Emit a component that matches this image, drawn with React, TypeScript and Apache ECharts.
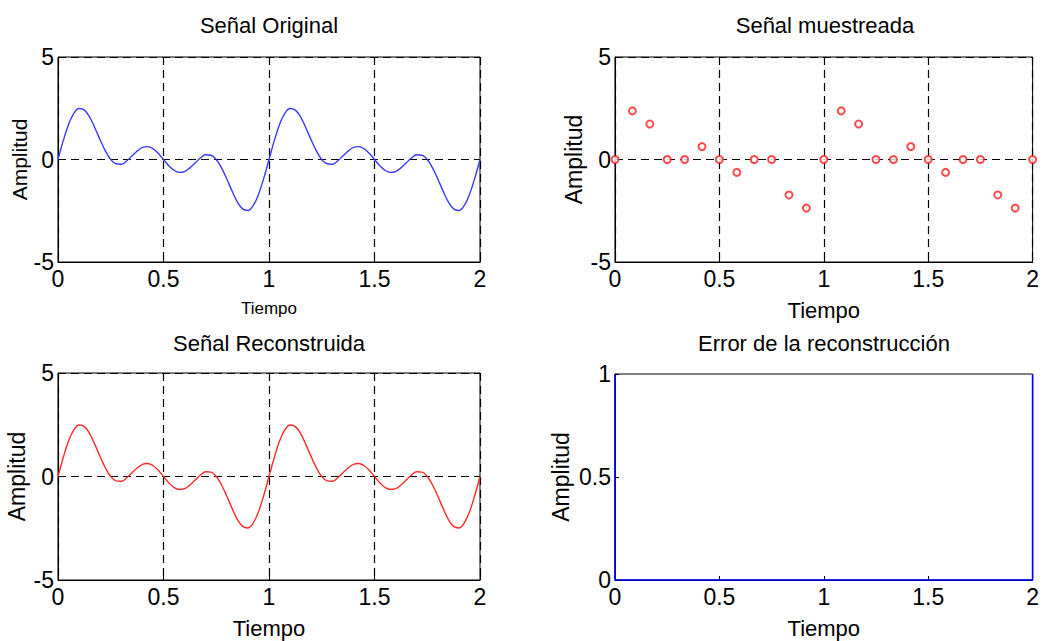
import React, { useEffect, useRef } from "react";
import * as echarts from "echarts";

// Continuous signal, read every 0.025 s over 0..2 s
const originalSignal: number[] = [
  0, 0.92, 1.71, 2.25, 2.49, 2.41, 2.07, 1.54, 0.95, 0.41,
  0, -0.21, -0.23, -0.07, 0.17, 0.41, 0.59, 0.63, 0.53, 0.30,
  0, -0.30, -0.53, -0.63, -0.59, -0.41, -0.17, 0.07, 0.23, 0.21,
  0, -0.41, -0.95, -1.54, -2.07, -2.41, -2.49, -2.25, -1.71, -0.92,
  0, 0.92, 1.71, 2.25, 2.49, 2.41, 2.07, 1.54, 0.95, 0.41,
  0, -0.21, -0.23, -0.07, 0.17, 0.41, 0.59, 0.63, 0.53, 0.30,
  0, -0.30, -0.53, -0.63, -0.59, -0.41, -0.17, 0.07, 0.23, 0.21,
  0, -0.41, -0.95, -1.54, -2.07, -2.41, -2.49, -2.25, -1.71, -0.92,
  0,
];
const reconstructedSignal: number[] = [
  0, 0.92, 1.71, 2.25, 2.49, 2.41, 2.07, 1.54, 0.95, 0.41,
  0, -0.21, -0.23, -0.07, 0.17, 0.41, 0.59, 0.63, 0.53, 0.30,
  0, -0.30, -0.53, -0.63, -0.59, -0.41, -0.17, 0.07, 0.23, 0.21,
  0, -0.41, -0.95, -1.54, -2.07, -2.41, -2.49, -2.25, -1.71, -0.92,
  0, 0.92, 1.71, 2.25, 2.49, 2.41, 2.07, 1.54, 0.95, 0.41,
  0, -0.21, -0.23, -0.07, 0.17, 0.41, 0.59, 0.63, 0.53, 0.30,
  0, -0.30, -0.53, -0.63, -0.59, -0.41, -0.17, 0.07, 0.23, 0.21,
  0, -0.41, -0.95, -1.54, -2.07, -2.41, -2.49, -2.25, -1.71, -0.92,
  0,
];
const contStep = 0.025;

// Sampled signal, every 1/12 s
const sampledSignal: number[] = [
  0, 2.37, 1.73, 0, 0, 0.63, 0, -0.63, 0, 0, -1.73, -2.37,
  0, 2.37, 1.73, 0, 0, 0.63, 0, -0.63, 0, 0, -1.73, -2.37,
  0,
];
const sampleStep = 1 / 12;

// Reconstruction error trace
const errorTime: number[] = [0, 0, 2, 2];
const errorValue: number[] = [1, 0, 0, 1];

const titles: string[] = [
  "Señal Original",
  "Señal muestreada",
  "Señal Reconstruida",
  "Error de la reconstrucción",
];
const xTicks = { min: 0, max: 2, interval: 0.5 };
const yTicksSignal = { min: -5, max: 5, interval: 5 };
const yTicksError = { min: 0, max: 1, interval: 0.5 };

const FONT = "'Liberation Sans', Arial, sans-serif";

export default function App() {
  const ref = useRef<HTMLDivElement>(null);
  useEffect(() => {
    if (!ref.current) return;
    const chart = echarts.init(ref.current, undefined, { renderer: "svg" });

    const grids = [
      { left: 58, top: 57, width: 422, height: 205 },
      { left: 615, top: 57, width: 421, height: 205 },
      { left: 58, top: 373, width: 422, height: 207 },
      { left: 615, top: 374, width: 421, height: 206 },
    ].map((g) => ({ ...g, show: true, borderColor: "#000", borderWidth: 1, backgroundColor: "transparent" }));

    const xNameGap = [38, 37, 37, 37];
    const xNameSize = [17, 22, 22, 22];
    const yNameGap = [28, 30, 30, 43];
    const yNameSize = [21, 23, 23, 23];

    const xAxes = [0, 1, 2, 3].map((i) => ({
      gridIndex: i,
      type: "value",
      ...xTicks,
      name: "Tiempo",
      nameLocation: "middle",
      nameGap: xNameGap[i],
      nameTextStyle: { fontFamily: FONT, fontSize: xNameSize[i], color: "#000" },
      axisLine: { show: true, onZero: false, lineStyle: { color: "#000", width: 1 } },
      axisTick: { show: true, inside: true, length: 4, lineStyle: { color: "#000" } },
      axisLabel: { fontFamily: FONT, fontSize: 23, color: "#000", margin: 5 },
      splitLine: { show: i < 3, lineStyle: { type: [8, 5], color: "#000", width: 1.2 } },
    }));
    const yAxes = [0, 1, 2, 3].map((i) => ({
      gridIndex: i,
      type: "value",
      ...(i === 3 ? yTicksError : yTicksSignal),
      name: "Amplitud",
      nameLocation: "middle",
      nameGap: yNameGap[i],
      nameRotate: 90,
      nameTextStyle: { fontFamily: FONT, fontSize: yNameSize[i], color: "#000" },
      axisLine: { show: true, onZero: false, lineStyle: { color: "#000", width: 1 } },
      axisTick: { show: true, inside: true, length: 4, lineStyle: { color: "#000" } },
      axisLabel: { fontFamily: FONT, fontSize: 23, color: "#000", margin: 4 },
      splitLine: { show: i < 3, lineStyle: { type: [8, 5], color: "#000", width: 1.2 } },
    }));

    const titleCenters = [
      [269, 25],
      [825, 25],
      [269, 343],
      [824, 343],
    ];

    chart.setOption({
      animation: false,
      backgroundColor: "#fff",
      grid: grids,
      xAxis: xAxes,
      yAxis: yAxes,
      graphic: titles.map((t, i) => ({
        type: "text",
        x: titleCenters[i][0],
        y: titleCenters[i][1],
        style: {
          text: t,
          fontFamily: FONT,
          fontSize: 22,
          fill: "#000",
          textAlign: "center",
          textVerticalAlign: "middle",
        },
      })),
      series: [
        {
          type: "line",
          xAxisIndex: 0,
          yAxisIndex: 0,
          data: originalSignal.map((v, k) => [k * contStep, v]),
          showSymbol: false,
          smooth: 0.4,
          lineStyle: { color: "#3a3aff", width: 1.4 },
        },
        {
          type: "scatter",
          xAxisIndex: 1,
          yAxisIndex: 1,
          data: sampledSignal.map((v, k) => [k * sampleStep, v]),
          symbol: "emptyCircle",
          symbolSize: 7,
          itemStyle: { color: "#ff2020", borderColor: "#ff2020", borderWidth: 1 },
          clip: false,
        },
        {
          type: "line",
          xAxisIndex: 2,
          yAxisIndex: 2,
          data: reconstructedSignal.map((v, k) => [k * contStep, v]),
          showSymbol: false,
          smooth: 0.4,
          lineStyle: { color: "#ff2a2a", width: 1.4 },
        },
        {
          type: "line",
          xAxisIndex: 3,
          yAxisIndex: 3,
          data: errorTime.map((t, k) => [t, errorValue[k]]),
          showSymbol: false,
          clip: false,
          lineStyle: { color: "#0000ff", width: 1.6 },
        },
      ],
    });
    return () => chart.dispose();
  }, []);
  return (
    <div
      ref={ref}
      style={{ position: "fixed", left: 0, top: 0, width: 1042, height: 641, background: "#fff" }}
    />
  );
}
